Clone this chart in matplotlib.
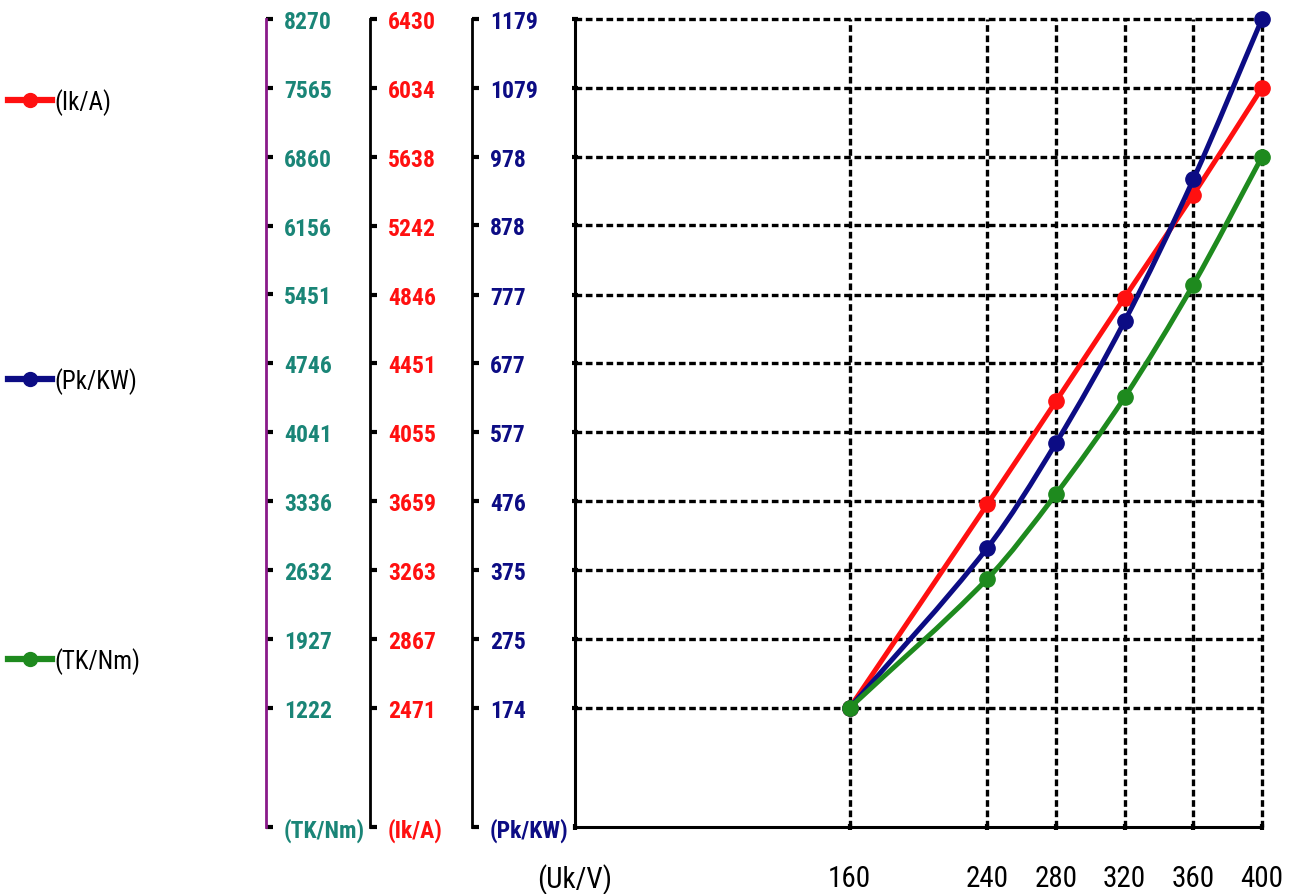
import matplotlib
matplotlib.use("Agg")
import matplotlib.pyplot as plt
import numpy as np
from matplotlib.path import Path
from matplotlib.patches import PathPatch
from matplotlib.lines import Line2D

plt.rcParams['font.family'] = ['Roboto Condensed', 'Archivo Narrow', 'PT Sans Narrow', 'DejaVu Sans']

# ---- data ----
volts = [160, 240, 280, 320, 360, 400]
ik_values = [2471, 3640, 4232, 4829, 5420, 6034]
pk_values = [174, 407, 560, 738, 945, 1179]
tk_values = [1222, 2540, 3408, 4399, 5553, 6860]

pk_ticks = [174, 275, 375, 476, 577, 677, 777, 878, 978, 1079, 1179]
ik_ticks = [2471, 2867, 3263, 3659, 4055, 4451, 4846, 5242, 5638, 6034, 6430]
tk_ticks = [1222, 1927, 2632, 3336, 4041, 4746, 5451, 6156, 6860, 7565, 8270]

x_label = '(Uk/V)'
pk_label = '(Pk/KW)'
ik_label = '(Ik/A)'
tk_label = '(TK/Nm)'

c_red = '#ff1010'
c_blue = '#0c0c84'
c_green = '#1e8a1e'
c_teal = '#1a8577'
c_purple = '#8a1a8a'

W, H = 1292, 895
fig = plt.figure(figsize=(W / 100, H / 100), dpi=100)
ax = fig.add_axes([575 / W, 67 / H, 687 / W, 808 / H])

ax.set_xlim(0, 400)
ax.set_ylim(0, pk_ticks[-1])
ax.set_xticks([0] + volts)
ax.set_xticklabels([x_label] + [str(v) for v in volts])
ax.set_yticks(pk_ticks)
ax.set_yticklabels([])
ax.grid(True, color='black', linestyle=(0, (2.0, 1.1)), linewidth=2.4)
ax.set_axisbelow(True)
for gl in ax.get_xgridlines() + ax.get_ygridlines():
    gl.set_clip_on(False)
ax.get_xgridlines()[0].set_visible(False)
for s in ['top', 'right']:
    ax.spines[s].set_visible(False)
for s in ['left', 'bottom']:
    ax.spines[s].set_linewidth(2.2)
    ax.spines[s].set_color('black')
ax.tick_params(axis='x', length=5, width=3, pad=24, labelsize=21, direction='inout')
ax.tick_params(axis='y', length=5, width=3, direction='inout')

frac = pk_ticks[0] / pk_ticks[-1]


def make_twin(pos, ticks, unit, label_color, spine_color):
    t = ax.twinx()
    bottom = ticks[-1] - (ticks[-1] - ticks[0]) / (1 - frac)
    t.set_ylim(bottom, ticks[-1])
    for s in ['top', 'bottom', 'left']:
        t.spines[s].set_visible(False)
    t.spines['right'].set_position(('axes', pos))
    t.spines['right'].set_color(spine_color)
    t.spines['right'].set_linewidth(2)
    t.set_yticks([bottom] + ticks)
    t.set_yticklabels([unit] + [str(v) for v in ticks])
    t.tick_params(axis='y', length=5, width=3, color='black', labelcolor=label_color,
                  pad=8, labelsize=17)
    for lbl in t.get_yticklabels():
        lbl.set_fontweight('bold')
    return t


ax_ik = make_twin((370 - 575) / 687, ik_ticks, ik_label, c_red, 'black')
ax_pk = make_twin((472 - 575) / 687, pk_ticks, pk_label, c_blue, 'black')
ax_tk = make_twin((266 - 575) / 687, tk_ticks, tk_label, c_teal, c_purple)


def smooth_curve(a, x, y, color):
    x = np.asarray(x, float)
    y = np.asarray(y, float)
    n = len(x)
    m = np.zeros(n)
    for i in range(n):
        if i == 0:
            m[i] = (y[1] - y[0]) / (x[1] - x[0])
        elif i == n - 1:
            m[i] = (y[-1] - y[-2]) / (x[-1] - x[-2])
        else:
            m[i] = (y[i + 1] - y[i - 1]) / (x[i + 1] - x[i - 1])
    verts = [(x[0], y[0])]
    codes = [Path.MOVETO]
    for i in range(n - 1):
        h = x[i + 1] - x[i]
        verts += [(x[i] + h / 3, y[i] + m[i] * h / 3),
                  (x[i + 1] - h / 3, y[i + 1] - m[i + 1] * h / 3),
                  (x[i + 1], y[i + 1])]
        codes += [Path.CURVE4] * 3
    patch = PathPatch(Path(verts, codes), fill=False, edgecolor=color, lw=3.6,
                      capstyle='round', joinstyle='round', clip_on=False)
    a.add_patch(patch)
    a.plot(x, y, 'o', color=color, ms=11, clip_on=False)


smooth_curve(ax_ik, volts, ik_values, c_red)
smooth_curve(ax_pk, volts, pk_values, c_blue)
smooth_curve(ax_tk, volts, tk_values, c_green)

handles = [Line2D([], [], color=c, lw=4.5, marker='o', ms=10) for c in (c_red, c_blue, c_green)]
fig.legend(handles, [ik_label, pk_label, tk_label], loc='upper left',
           bbox_to_anchor=(8 / W, 1 - 89 / H), frameon=False, fontsize=18,
           labelspacing=10.1, handlelength=1.75, handletextpad=0.1, borderaxespad=0,
           borderpad=0)

fig.savefig('out.png', dpi=100)
